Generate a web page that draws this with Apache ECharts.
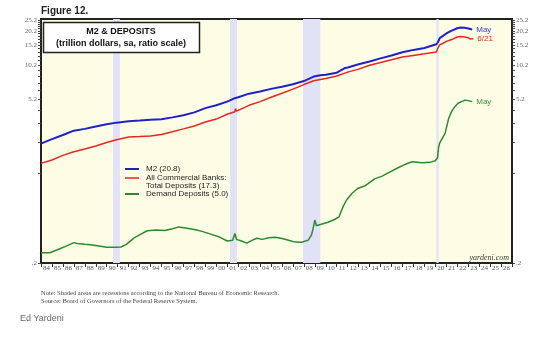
<!DOCTYPE html>
<html>
<head>
<meta charset="utf-8">
<script src="https://cdn.jsdelivr.net/npm/echarts@6/dist/echarts.min.js"></script>
<style>
html,body{margin:0;padding:0;background:#fff;}
#chart{width:550px;height:340px;}
</style>
</head>
<body>
<div id="chart"></div>
<script>
// ---- data (trillion dollars, ratio scale) ----
const yearLabels = ['84','85','86','87','88','89','90','91','92','93','94','95','96','97','98','99','00','01','02','03','04','05','06','07','08','09','10','11','12','13','14','15','16','17','18','19','20','21','22','23','24','25','26'];

const m2Years  = [1984.0,1985,1986,1987,1988,1989,1990,1990.9,1992,1993,1994,1995,1996,1997,1998,1999,2000,2001,2001.7,2002,2003,2004,2005,2006,2007,2008,2008.9,2009.5,2010,2011,2011.7,2012,2013,2014,2015,2016,2017,2018,2019,2020.1,2020.25,2020.4,2020.7,2021,2021.5,2022,2022.3,2022.7,2023,2023.37];
const m2Values = [2.15,2.35,2.55,2.78,2.88,3.02,3.16,3.26,3.35,3.4,3.46,3.48,3.62,3.78,4.0,4.35,4.6,4.95,5.3,5.4,5.8,6.05,6.38,6.65,7.0,7.45,8.15,8.35,8.45,8.8,9.6,9.75,10.4,11.0,11.7,12.4,13.2,13.85,14.4,15.5,16.2,17.5,18.3,19.2,20.3,21.3,21.6,21.5,21.2,20.8];

const depYears  = [1984.0,1985,1986,1987,1988,1989,1990,1990.9,1992,1993,1994,1995,1996,1997,1998,1999,2000,2001,2001.7,2001.75,2001.85,2002,2003,2004,2005,2006,2007,2008,2008.9,2009.5,2010,2011,2012,2013,2014,2015,2016,2017,2018,2019,2020.1,2020.25,2020.4,2020.7,2021,2021.5,2022,2022.3,2022.7,2023,2023.2,2023.47];
const depValues = [1.45,1.55,1.7,1.83,1.93,2.05,2.2,2.32,2.45,2.47,2.5,2.58,2.72,2.88,3.05,3.3,3.5,3.85,4.05,4.3,4.1,4.2,4.6,4.95,5.4,5.85,6.35,6.95,7.5,7.7,7.85,8.25,8.9,9.45,10.2,10.8,11.4,12.0,12.4,12.8,13.3,14.5,15.3,15.8,16.4,17.0,17.9,18.1,17.9,17.6,17.2,17.3];

const ddYears  = [1984.0,1984.8,1985.5,1986.3,1987.0,1987.3,1988,1988.5,1989.3,1990,1990.8,1991.3,1991.8,1992.5,1993.0,1993.7,1994.5,1995.3,1996.0,1996.6,1997.3,1998.0,1998.7,1999.5,2000.3,2001.0,2001.5,2001.7,2001.85,2002.3,2002.8,2003.3,2003.7,2004.2,2004.8,2005.4,2006.0,2006.6,2007.2,2007.8,2008.4,2008.7,2008.85,2009.0,2009.15,2009.5,2010.2,2010.8,2011.2,2011.6,2011.9,2012.4,2012.9,2013.6,2014.5,2015.1,2015.7,2016.6,2017.3,2017.9,2018.8,2019.5,2020.0,2020.2,2020.3,2020.4,2020.9,2021.2,2021.5,2021.8,2022.1,2022.5,2022.7,2023.0,2023.37];
const ddValues = [0.245,0.245,0.26,0.28,0.3,0.295,0.29,0.287,0.28,0.274,0.273,0.275,0.29,0.33,0.35,0.38,0.385,0.382,0.395,0.41,0.4,0.39,0.375,0.355,0.335,0.31,0.315,0.36,0.32,0.31,0.297,0.315,0.327,0.32,0.33,0.334,0.325,0.315,0.303,0.302,0.315,0.35,0.4,0.47,0.42,0.43,0.45,0.475,0.5,0.62,0.7,0.8,0.88,0.93,1.07,1.12,1.2,1.33,1.43,1.5,1.47,1.48,1.53,1.62,2.0,2.18,2.65,3.5,4.1,4.5,4.82,5.0,5.1,5.05,4.95];

const recessionStart = [1990.58, 2001.25, 2007.92, 2020.1];
const recessionEnd   = [1991.2, 2001.9, 2009.5, 2020.3];

const yTickValues  = [0.2,1.2,2.2,3.2,4.2,5.2,6.2,7.2,8.2,9.2,10.2,11.2,12.2,13.2,14.2,15.2,16.2,17.2,18.2,19.2,20.2,21.2,22.2,23.2,24.2,25.2];
const yLabelValues = [0.2,5.2,10.2,15.2,20.2,25.2];

// ---- build ----
const pairs = (xs, ys) => xs.map((x, i) => [x, ys[i]]);
const recessionAreas = recessionStart.map((s, i) => [{xAxis: s}, {xAxis: recessionEnd[i]}]);

const yLabelFmt = v => {
  const r = Math.round(v * 10) / 10;
  return r < 1 ? '.2' : r.toFixed(1);
};

function yAxisCfg(pos) {
  return {
    type: 'log', position: pos, min: 0.2, max: 25.6,
    axisLine: {show: true, lineStyle: {color: '#222', width: 2}},
    axisTick: {show: true, customValues: yTickValues, length: 3, lineStyle: {color: '#444', width: 1}},
    minorTick: {show: false},
    axisLabel: {customValues: yLabelValues, formatter: yLabelFmt, fontFamily: 'Liberation Serif', fontSize: 7, color: '#666', margin: 4},
    splitLine: {show: false}
  };
}

const chart = echarts.init(document.getElementById('chart'), null, {renderer: 'canvas'});
chart.setOption({
  animation: false,
  backgroundColor: '#fff',
  grid: {left: 41, right: 38, top: 19, bottom: 77, show: true, backgroundColor: '#fdfde6', borderColor: '#222', borderWidth: 2},
  xAxis: [
    {type: 'value', min: 1984, max: 2027, position: 'top', show: false},
    {type: 'category', position: 'bottom', data: yearLabels, boundaryGap: true,
     axisLine: {show: true, lineStyle: {color: '#222', width: 2}},
     axisTick: {show: true, interval: 0, length: 4, lineStyle: {color: '#333'}},
     axisLabel: {interval: 0, fontFamily: 'Liberation Serif', fontSize: 7, color: '#555', margin: 2},
     splitLine: {show: false}}
  ],
  yAxis: [yAxisCfg('left'), yAxisCfg('right')],
  series: [
    {type: 'line', name: 'recessions', xAxisIndex: 0, yAxisIndex: 0, data: [], silent: true,
     markArea: {silent: true, itemStyle: {color: '#e1e1f8'}, data: recessionAreas}},
    {type: 'line', name: 'M2 (20.8)', xAxisIndex: 0, yAxisIndex: 0, data: pairs(m2Years, m2Values),
     showSymbol: false, lineStyle: {color: '#2020c8', width: 2}, itemStyle: {color: '#2020c8'},
     endLabel: {show: true, formatter: 'May', color: '#3a3ad0', fontSize: 8, fontFamily: 'Arial', distance: 4}},
    {type: 'line', name: 'Total Deposits (17.3)', xAxisIndex: 0, yAxisIndex: 0, data: pairs(depYears, depValues),
     showSymbol: false, lineStyle: {color: '#e8261c', width: 1.5}, itemStyle: {color: '#e8261c'},
     endLabel: {show: true, formatter: '6/21', color: '#e8261c', fontSize: 8, fontFamily: 'Arial', distance: 4}},
    {type: 'line', name: 'Demand Deposits (5.0)', xAxisIndex: 0, yAxisIndex: 0, data: pairs(ddYears, ddValues),
     showSymbol: false, lineStyle: {color: '#2c8a2c', width: 1.5}, itemStyle: {color: '#2c8a2c'},
     endLabel: {show: true, formatter: 'May', color: '#3c923c', fontSize: 8, fontFamily: 'Arial', distance: 4}}
  ],
  graphic: [
    {type: 'text', left: 41, top: 6, style: {text: 'Figure 12.', font: 'bold 10px Arial', fill: '#222'}},
    {type: 'rect', shape: {x: 43.5, y: 22.5, width: 156, height: 30}, style: {fill: '#fff', stroke: '#222', lineWidth: 1.5}, z: 10},
    {type: 'text', x: 121, y: 27, z: 11, style: {text: 'M2 & DEPOSITS', font: 'bold 9px Arial', fill: '#111', align: 'center'}},
    {type: 'text', x: 121, y: 39, z: 11, style: {text: '(trillion dollars, sa, ratio scale)', font: 'bold 9px Arial', fill: '#111', align: 'center'}},
    {type: 'line', z: 11, shape: {x1: 125, y1: 169, x2: 139, y2: 169}, style: {stroke: '#2020c8', lineWidth: 2}},
    {type: 'text', z: 11, x: 146, y: 165, style: {text: 'M2 (20.8)', font: '8px Arial', fill: '#222'}},
    {type: 'line', z: 11, shape: {x1: 125, y1: 178, x2: 139, y2: 178}, style: {stroke: '#e8261c', lineWidth: 1.5}},
    {type: 'text', z: 11, x: 146, y: 174, style: {text: 'All Commercial Banks:', font: '8px Arial', fill: '#222'}},
    {type: 'text', z: 11, x: 146, y: 182, style: {text: 'Total Deposits (17.3)', font: '8px Arial', fill: '#222'}},
    {type: 'line', z: 11, shape: {x1: 125, y1: 194, x2: 139, y2: 194}, style: {stroke: '#2c8a2c', lineWidth: 2}},
    {type: 'text', z: 11, x: 146, y: 190, style: {text: 'Demand Deposits (5.0)', font: '8px Arial', fill: '#222'}},
    {type: 'text', z: 11, x: 509, y: 254, style: {text: 'yardeni.com', font: 'italic 8px "Liberation Serif"', fill: '#333', align: 'right'}},
    {type: 'text', x: 41, y: 290, style: {text: 'Note: Shaded areas are recessions according to the National Bureau of Economic Research.', font: '6.5px "Liberation Serif"', fill: '#444'}},
    {type: 'text', x: 41, y: 298, style: {text: 'Source: Board of Governors of the Federal Reserve System.', font: '6.5px "Liberation Serif"', fill: '#444'}},
    {type: 'text', x: 20, y: 314, style: {text: 'Ed Yardeni', font: '9px Arial', fill: '#666'}}
  ]
});
</script>
</body>
</html>
